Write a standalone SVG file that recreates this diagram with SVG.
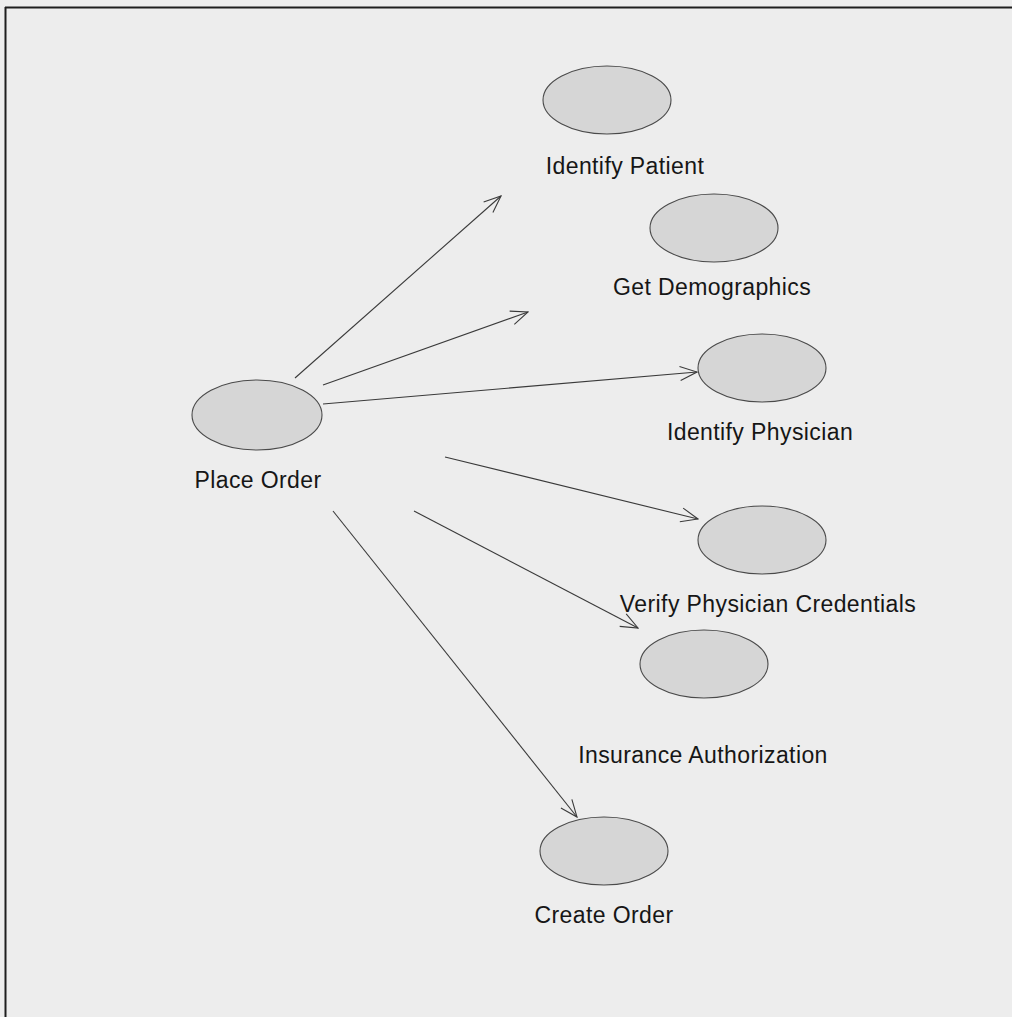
<svg xmlns="http://www.w3.org/2000/svg" width="1012" height="1017" viewBox="0 0 1012 1017">
  <style>
    .uc { fill: #d6d6d6; stroke: #4a4a4a; stroke-width: 1.1; }
    .lbl { font-family: "Liberation Sans", Arial, sans-serif; font-size: 23px; letter-spacing: 0.4px; fill: #161616; text-anchor: middle; }
    .assoc { stroke: #3a3a3a; stroke-width: 1.1; fill: none; marker-end: url(#openArrow); }
  </style>
  <defs>
    <marker id="openArrow" viewBox="0 0 20 20" refX="19" refY="10" markerWidth="20" markerHeight="20" markerUnits="userSpaceOnUse" orient="auto">
      <path d="M2,3 L19,10 L2,17" fill="none" stroke="#3a3a3a" stroke-width="1.1"/>
    </marker>
  </defs>

  <!-- page and frame -->
  <rect x="0" y="0" width="1012" height="1017" fill="#ededed"/>
  <line x1="5" y1="7.5" x2="1012" y2="7.5" stroke="#1e1e1e" stroke-width="2"/>
  <line x1="5.5" y1="7" x2="5.5" y2="1017" stroke="#1e1e1e" stroke-width="2"/>

  <!-- associations from the actor use case -->
  <g id="connectors">
    <line class="assoc" x1="295" y1="378" x2="501" y2="196"/>
    <line class="assoc" x1="323" y1="385" x2="528" y2="312"/>
    <line class="assoc" x1="323" y1="404" x2="697" y2="372"/>
    <line class="assoc" x1="445" y1="457" x2="698" y2="519"/>
    <line class="assoc" x1="414" y1="511" x2="638" y2="628"/>
    <line class="assoc" x1="333" y1="511" x2="577" y2="817"/>
  </g>

  <g id="place-order">
    <ellipse class="uc" cx="257" cy="415" rx="65" ry="35"/>
    <text class="lbl" x="258" y="488">Place Order</text>
  </g>

  <g id="identify-patient">
    <ellipse class="uc" cx="607" cy="100" rx="64" ry="34"/>
    <text class="lbl" x="625" y="174">Identify Patient</text>
  </g>

  <g id="get-demographics">
    <ellipse class="uc" cx="714" cy="228" rx="64" ry="34"/>
    <text class="lbl" x="712" y="295">Get Demographics</text>
  </g>

  <g id="identify-physician">
    <ellipse class="uc" cx="762" cy="368" rx="64" ry="34"/>
    <text class="lbl" x="760" y="440">Identify Physician</text>
  </g>

  <g id="verify-credentials">
    <ellipse class="uc" cx="762" cy="540" rx="64" ry="34"/>
    <text class="lbl" x="768" y="612">Verify Physician Credentials</text>
  </g>

  <g id="insurance-authorization">
    <ellipse class="uc" cx="704" cy="664" rx="64" ry="34"/>
    <text class="lbl" x="703" y="763">Insurance Authorization</text>
  </g>

  <g id="create-order">
    <ellipse class="uc" cx="604" cy="851" rx="64" ry="34"/>
    <text class="lbl" x="604" y="923">Create Order</text>
  </g>
</svg>
